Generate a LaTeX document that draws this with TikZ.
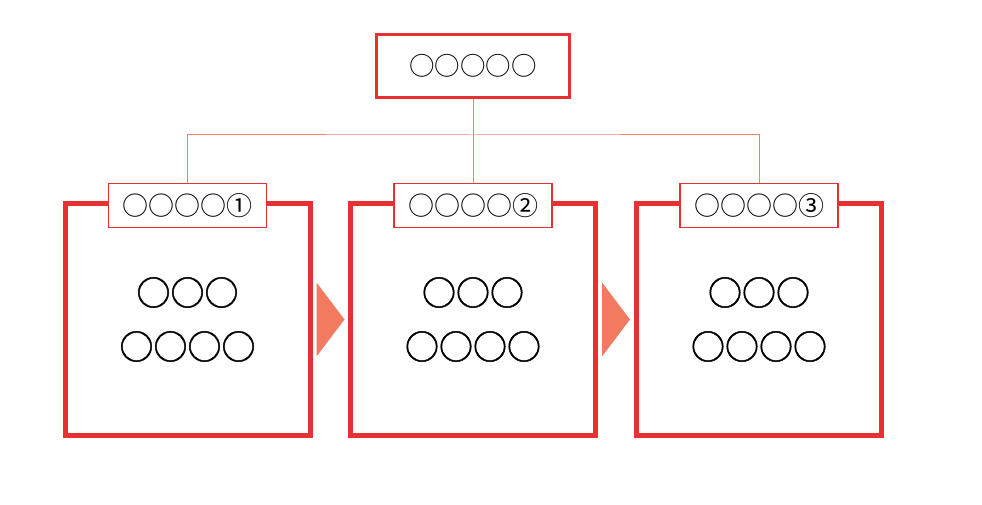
\documentclass[tikz,border=0pt]{standalone}
\usepackage{fontspec}
\setmainfont{Noto Sans CJK JP}
\newfontfamily\heavycjk{Noto Sans CJK JP}[FakeBold=1.3]
\usetikzlibrary{positioning, calc}
\definecolor{boxred}{RGB}{232,48,50}
\definecolor{linkred}{RGB}{240,130,115}
\definecolor{arrowred}{RGB}{242,122,94}
\tikzset{
	stage/.style={
			rectangle, draw=boxred, line width=5pt,
			minimum width=245pt, minimum height=232pt, inner sep=0pt,
			align=center, font=\heavycjk\fontsize{34}{54}\selectfont},
	tag/.style={
			rectangle, draw=boxred, fill=white, line width=1.2pt,
			minimum width=158pt, minimum height=44pt, inner sep=0pt,
			font=\fontsize{26}{30}\selectfont},
	head/.style={
			rectangle, draw=boxred, line width=2.5pt,
			minimum width=193pt, minimum height=63pt, inner sep=0pt,
			font=\fontsize{25.5}{30}\selectfont},
	link/.style={draw=linkred, line width=1pt},
		}

\begin{document}
\begin{tikzpicture} [x=1pt, y=-1pt]
	 	\useasboundingbox (0,0) rectangle (982,505);

		\node[head] (top) at (473,66) {○○○○○};

		\node[stage] (box1) at (187.5,319.5) {○○○\\○○○○};
		\node[stage] (box2) at (473,319.5) {○○○\\○○○○};
		\node[stage] (box3) at (759,319.5) {○○○\\○○○○};

		\coordinate (bus) at (473,135);
		\draw[link] (top) -- (bus);

		\node[tag] (lab1) at (box1.north |- 0,205.5) {○○○○①};
		\node[tag] (lab2) at (box2.north |- 0,205.5) {○○○○②};
		\node[tag] (lab3) at (box3.north |- 0,205.5) {○○○○③};

		\draw[link] (lab1.north) |- (bus) -| (lab3.north);
		\draw[link] (bus) -- (lab2.north);
%
		\fill[arrowred] ($(box1.east)+(4,-37)$) -- ++(28,37) -- ++(-28,37) -- cycle;
		\fill[arrowred] ($(box2.east)+(4,-37)$) -- ++(28,37) -- ++(-28,37) -- cycle;
%
	 	\end{tikzpicture}
\end{document}
